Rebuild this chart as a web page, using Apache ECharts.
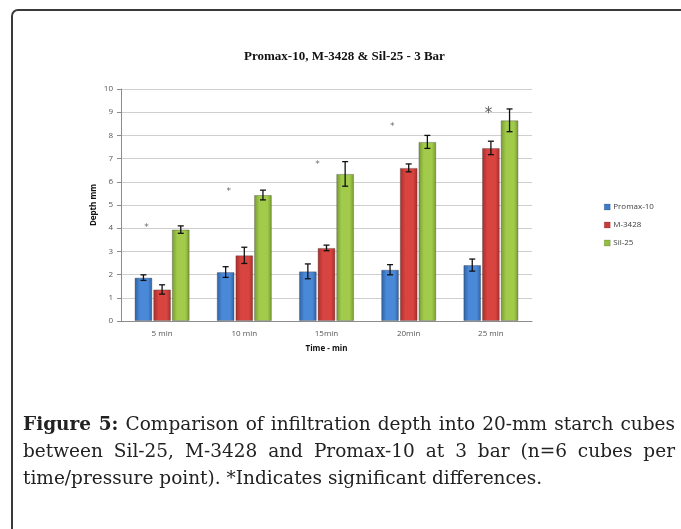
<!DOCTYPE html>
<html>
<head>
<meta charset="utf-8">
<script src="https://cdn.jsdelivr.net/npm/echarts@6/dist/echarts.min.js"></script>
<style>
  html, body { margin: 0; padding: 0; background: #fff; }
  #wrap { position: relative; width: 681px; height: 529px; overflow: hidden; }
  #frame {
    position: absolute; left: 11px; top: 9px; width: 700px; height: 560px;
    border: 2px solid #3a3a3a; border-radius: 7px; box-sizing: border-box;
  }
  #chart { position: absolute; left: 0; top: 0; width: 681px; height: 529px; }
  #caption {
    position: absolute; left: 23px; top: 410px; width: 652px;
    font-family: "DejaVu Serif", serif; font-size: 18.5px;
    line-height: 27px; color: #222;
  }
  #caption div { text-align: justify; text-align-last: justify; white-space: nowrap; }
  #caption div.last { text-align-last: left; }
</style>
</head>
<body>
<div id="wrap">
  <div id="chart"></div>
  <div id="frame"></div>
  <div id="caption">
    <div><b>Figure 5:</b> Comparison of infiltration depth into 20-mm starch cubes</div>
    <div>between Sil-25, M-3428 and Promax-10 at 3 bar (n=6 cubes per</div>
    <div class="last">time/pressure point). *Indicates significant differences.</div>
  </div>
</div>
<script>
// 数据
const categories = ['5 min', '10 min', '15min', '20min', '25 min'];
const seriesNames = ['Promax-10', 'M-3428', 'Sil-25'];
const promax = [1.87, 2.11, 2.14, 2.21, 2.41];
const m3428 = [1.36, 2.83, 3.15, 6.60, 7.46];
const sil25 = [3.94, 5.43, 6.34, 7.72, 8.65];
const promaxErr = [0.12, 0.23, 0.32, 0.22, 0.26];
const m3428Err = [0.20, 0.35, 0.12, 0.17, 0.29];
const sil25Err = [0.16, 0.21, 0.53, 0.28, 0.49];
// 显著性星号: 横向位置(类目单位) 与 高度
const starPos = [0.31, 1.31, 2.39, 3.30, 4.47];
const starVal = [4.11, 5.65, 6.84, 8.47, 9.08];

const values = [promax, m3428, sil25];
const errors = [promaxErr, m3428Err, sil25Err];

const CAT_GAP = 0.33;
const BAR_GAP = 0.05;

function bevel(dark, light) {
    return new echarts.graphic.LinearGradient(0, 0, 1, 0, [
        { offset: 0, color: dark },
        { offset: 0.3, color: light },
        { offset: 0.75, color: light },
        { offset: 1, color: dark }
    ]);
}
const fills = [
    bevel('#2d5f9f', '#4a89d8'),
    bevel('#a52c2a', '#d8443f'),
    bevel('#76992c', '#a2cb4c')
];
const legendColors = ['#3e7bc9', '#c93c39', '#93be3f'];

function errorBarItem(params, api) {
    const cat = api.value(0);
    const s = api.value(3);
    const band = api.size([1, 0])[0];
    const n = 3;
    const groupW = band * (1 - CAT_GAP);
    const barW = groupW / (n + (n - 1) * BAR_GAP);
    const center = api.coord([cat, 0])[0];
    const x = center - groupW / 2 + barW / 2 + s * barW * (1 + BAR_GAP);
    const hi = api.coord([cat, api.value(1) + api.value(2)])[1];
    const lo = api.coord([cat, api.value(1) - api.value(2)])[1];
    const cap = 3;
    const style = { stroke: '#111', lineWidth: 1.3 };
    return {
        type: 'group',
        children: [
            { type: 'line', shape: { x1: x, y1: hi, x2: x, y2: lo }, style: style },
            { type: 'line', shape: { x1: x - cap, y1: hi, x2: x + cap, y2: hi }, style: style },
            { type: 'line', shape: { x1: x - cap, y1: lo, x2: x + cap, y2: lo }, style: style }
        ]
    };
}

const chart = echarts.init(document.getElementById('chart'));

const barSeries = seriesNames.map(function (name, i) {
    return {
        name: name,
        type: 'bar',
        data: values[i],
        barCategoryGap: (CAT_GAP * 100) + '%',
        barGap: (BAR_GAP * 100) + '%',
        itemStyle: { color: fills[i], borderColor: 'rgba(60,60,60,0.35)', borderWidth: 1 },
        z: 2
    };
});

const errSeries = seriesNames.map(function (name, i) {
    return {
        type: 'custom',
        renderItem: errorBarItem,
        data: values[i].map(function (v, k) { return [k, v, errors[i][k], i]; }),
        encode: { x: 0, y: 1 },
        z: 5,
        silent: true
    };
});

const starSeries = {
    type: 'scatter',
    xAxisIndex: 1,
    symbolSize: 1,
    itemStyle: { color: 'rgba(0,0,0,0)' },
    silent: true,
    data: starPos.map(function (p, k) {
        const big = k === starPos.length - 1;
        return {
            value: [p, starVal[k]],
            label: {
                show: true, position: 'inside', formatter: '*',
                fontSize: big ? 15 : 9, offset: [0, big ? 4 : 2],
                color: big ? '#333' : '#444',
                fontFamily: 'DejaVu Sans'
            }
        };
    }),
    z: 6
};

const option = {
    animation: false,
    backgroundColor: '#fff',
    title: {
        text: 'Promax-10, M-3428 & Sil-25 - 3 Bar',
        left: 239, top: 45,
        textStyle: { fontFamily: 'Liberation Serif', fontSize: 13, fontWeight: 'bold', color: '#111' }
    },
    legend: {
        orient: 'vertical',
        left: 604, top: 202, padding: 0,
        itemWidth: 6, itemHeight: 6, itemGap: 8,
        icon: 'rect',
        data: seriesNames.map(function (n, i) {
            return { name: n, itemStyle: { color: legendColors[i], borderColor: 'rgba(0,0,0,0.3)', borderWidth: 0.5 } };
        }),
        textStyle: { fontFamily: 'Open Sans', fontSize: 8, color: '#404040', lineHeight: 10, padding: [0, 0, 0, -2] }
    },
    grid: { left: 121, right: 149, top: 89, bottom: 208 },
    xAxis: [{
        type: 'category',
        data: categories,
        name: 'Time - min',
        nameLocation: 'middle',
        nameGap: 24,
        nameTextStyle: { fontFamily: 'Open Sans', fontSize: 8, fontWeight: 'bold', color: '#111' },
        axisLine: { lineStyle: { color: '#8c8c8c' } },
        axisTick: { show: false },
        axisLabel: { fontFamily: 'Open Sans', fontSize: 8, color: '#555', margin: 9 }
    }, {
        type: 'value', min: 0, max: 5, show: false
    }],
    yAxis: {
        type: 'value',
        min: 0, max: 10, interval: 1,
        name: 'Depth mm',
        nameLocation: 'middle',
        nameGap: 23,
        nameMoveOverlap: false,
        nameTextStyle: { fontFamily: 'Open Sans', fontSize: 8, fontWeight: 'bold', color: '#111' },
        axisLine: { show: true, lineStyle: { color: '#8c8c8c' } },
        axisTick: { show: true, length: 4, lineStyle: { color: '#8c8c8c' } },
        axisLabel: { fontFamily: 'Open Sans', fontSize: 8, color: '#555', margin: 8 },
        splitLine: { lineStyle: { color: '#cfcfcf', width: 1 } }
    },
    series: barSeries.concat(errSeries, [starSeries])
};

chart.setOption(option);
</script>
</body>
</html>
